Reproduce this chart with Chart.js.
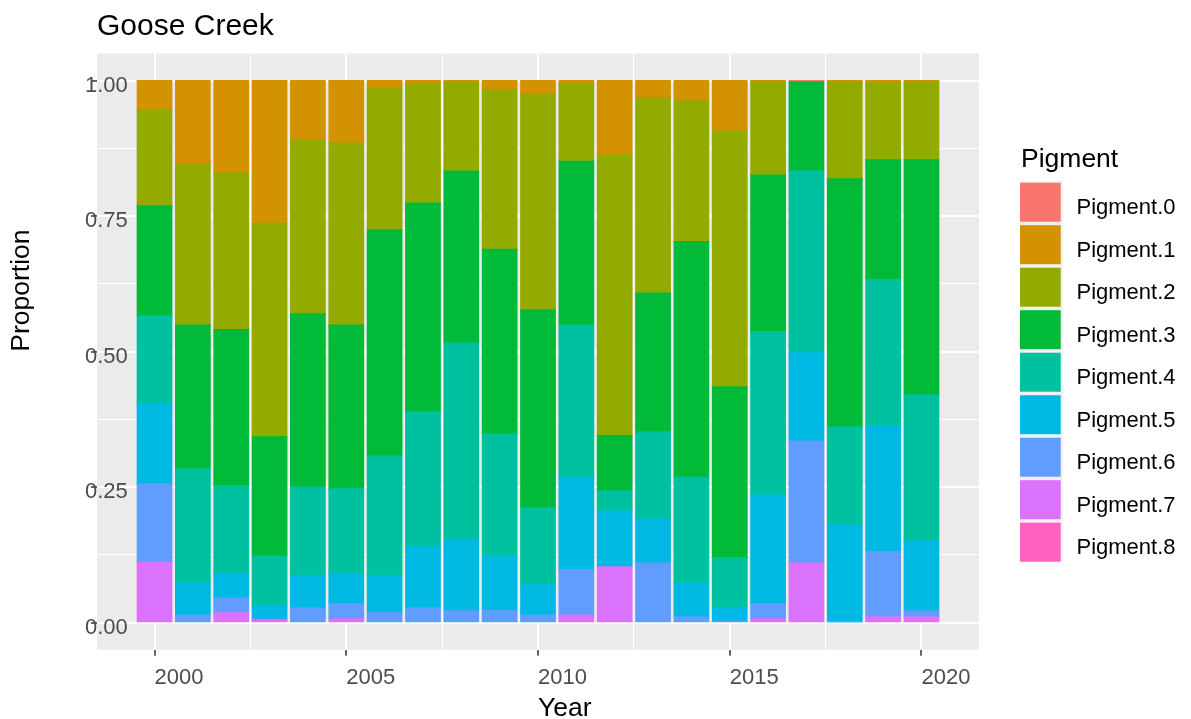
<!DOCTYPE html>
<html>
<head>
<meta charset="utf-8">
<title>Goose Creek</title>
<script src="https://cdn.jsdelivr.net/npm/chart.js"></script>
<style>
  body { margin: 0; background: #fff; }
  canvas { display: block; }
</style>
</head>
<body>
<canvas id="pigmentChart" width="1191" height="719"></canvas>
<script>
const FONT = '"Liberation Sans", Arial, Helvetica, sans-serif';

const chartTitle = 'Goose Creek';
const xTitle = 'Year';
const yTitle = 'Proportion';
const legendTitle = 'Pigment';

const years = [2000, 2001, 2002, 2003, 2004, 2005, 2006, 2007, 2008, 2009, 2010,
               2011, 2012, 2013, 2014, 2015, 2016, 2017, 2018, 2019, 2020];

// proportion of each pigment per year (2000..2020)
const pigment0 = [0, 0, 0, 0, 0, 0, 0, 0, 0, 0, 0, 0, 0, 0, 0, 0, 0, 0.002, 0, 0, 0];
const pigment1 = [0.054, 0.153, 0.170, 0.263, 0.109, 0.115, 0.013, 0.006, 0.002, 0.017, 0.024,
                  0.006, 0.137, 0.031, 0.037, 0.093, 0.002, 0, 0.002, 0.004, 0.002];
const pigment2 = [0.177, 0.298, 0.289, 0.394, 0.321, 0.336, 0.262, 0.220, 0.165, 0.294, 0.399,
                  0.143, 0.518, 0.361, 0.260, 0.472, 0.172, 0, 0.179, 0.142, 0.144];
const pigment3 = [0.203, 0.265, 0.288, 0.220, 0.320, 0.302, 0.417, 0.385, 0.317, 0.341, 0.365,
                  0.302, 0.102, 0.256, 0.435, 0.315, 0.289, 0.165, 0.458, 0.221, 0.434];
const pigment4 = [0.162, 0.211, 0.163, 0.092, 0.163, 0.157, 0.221, 0.249, 0.362, 0.224, 0.142,
                  0.281, 0.037, 0.161, 0.195, 0.092, 0.301, 0.335, 0.181, 0.270, 0.269];
const pigment5 = [0.148, 0.059, 0.044, 0.024, 0.060, 0.055, 0.069, 0.113, 0.132, 0.101, 0.056,
                  0.170, 0.103, 0.081, 0.062, 0.025, 0.201, 0.163, 0.178, 0.232, 0.129];
const pigment6 = [0.145, 0.014, 0.028, 0.003, 0.027, 0.028, 0.018, 0.027, 0.022, 0.023, 0.014,
                  0.084, 0, 0.110, 0.011, 0.003, 0.028, 0.225, 0.002, 0.120, 0.011];
const pigment7 = [0.111, 0, 0.018, 0.004, 0, 0.007, 0, 0, 0, 0, 0,
                  0.014, 0.103, 0, 0, 0, 0.007, 0.110, 0, 0.011, 0.011];
const pigment8 = [0, 0, 0, 0, 0, 0, 0, 0, 0, 0, 0, 0, 0, 0, 0, 0, 0, 0, 0, 0, 0];

const seriesNames = ['Pigment.0', 'Pigment.1', 'Pigment.2', 'Pigment.3', 'Pigment.4',
                     'Pigment.5', 'Pigment.6', 'Pigment.7', 'Pigment.8'];
const seriesValues = [pigment0, pigment1, pigment2, pigment3, pigment4,
                      pigment5, pigment6, pigment7, pigment8];
const seriesColors = ['#F8766D', '#D39200', '#93AA00', '#00BA38', '#00C19F',
                      '#00B9E3', '#619CFF', '#DB72FB', '#FF61C3'];

// first dataset sits at the bottom of the stack, so Pigment.8 goes first
const datasets = seriesNames.map((name, i) => ({
    label: name,
    data: years.map((yr, j) => ({ x: yr, y: seriesValues[i][j] })),
    backgroundColor: seriesColors[i],
    borderWidth: 0,
    // slight overlap hides seams between stacked segments; empty segments stay flat
    inflateAmount: ctx => (ctx.raw && ctx.raw.y > 0) ? 0.6 : 0,
    categoryPercentage: 1,
    barPercentage: 0.9
})).reverse();

const isMajor = (v, step) => Math.abs(v / step - Math.round(v / step)) < 1e-6;

const decorations = {
    id: 'decorations',
    beforeDraw(chart) {
        const { ctx, chartArea: a } = chart;
        ctx.save();
        ctx.fillStyle = '#EBEBEB';
        ctx.fillRect(a.left, a.top, a.right - a.left, a.bottom - a.top);
        ctx.restore();
    },
    afterDraw(chart) {
        const { ctx, chartArea: a } = chart;
        ctx.save();
        ctx.fillStyle = '#000';
        ctx.textAlign = 'left';
        ctx.textBaseline = 'alphabetic';

        ctx.font = '30px ' + FONT;
        ctx.fillText(chartTitle, a.left, 35);

        ctx.font = '26.5px ' + FONT;
        ctx.fillText(xTitle, (a.left + a.right) / 2, 716);

        ctx.save();
        ctx.translate(29, (a.top + a.bottom) / 2);
        ctx.rotate(-Math.PI / 2);
        ctx.fillText(yTitle, 0, 0);
        ctx.restore();

        // legend
        const keyX = 1020, keyTop = 182.7, keyStep = 42.5, keyW = 40.7, keyH = 39;
        ctx.fillText(legendTitle, 1021, 166.7);
        ctx.fillStyle = '#F2F2F2';
        ctx.fillRect(keyX, keyTop - 1.7, 43, keyStep * seriesNames.length - 1.6);
        ctx.font = '22px ' + FONT;
        seriesNames.forEach((name, i) => {
            const y = keyTop + i * keyStep;
            ctx.fillStyle = seriesColors[i];
            ctx.fillRect(keyX, y, keyW, keyH);
            ctx.fillStyle = '#000';
            ctx.fillText(name, 1076.5, y + 31.3);
        });
        ctx.restore();
    }
};

new Chart(document.getElementById('pigmentChart').getContext('2d'), {
    type: 'bar',
    data: { datasets: datasets },
    plugins: [decorations],
    options: {
        responsive: false,
        devicePixelRatio: 1,
        animation: false,
        layout: { padding: { top: 53.6, right: 212, bottom: 0, left: 0 } },
        plugins: {
            legend: { display: false },
            tooltip: { enabled: false }
        },
        scales: {
            x: {
                type: 'linear',
                stacked: true,
                offset: false,
                min: 1998.5,
                max: 2021.5,
                border: { display: false },
                grid: {
                    offset: false,
                    color: '#FFFFFF',
                    lineWidth: ctx => isMajor(ctx.tick.value, 5) ? 2 : 1,
                    tickColor: ctx => isMajor(ctx.tick.value, 5) ? '#333333' : 'rgba(0,0,0,0)',
                    tickLength: 6,
                    tickWidth: 1.5
                },
                ticks: {
                    stepSize: 2.5,
                    includeBounds: false,
                    autoSkip: false,
                    maxRotation: 0,
                    align: 'start',
                    padding: 9,
                    color: '#4D4D4D',
                    font: { family: FONT, size: 22 },
                    callback: v => isMajor(v, 5) ? String(v) : ''
                },
                afterFit: scale => { scale.height = 69.2; }
            },
            y: {
                stacked: true,
                beginAtZero: false,
                min: -0.05,
                max: 1.05,
                border: { display: false },
                grid: {
                    color: '#FFFFFF',
                    lineWidth: ctx => isMajor(ctx.tick.value, 0.25) ? 2 : 1,
                    tickColor: ctx => isMajor(ctx.tick.value, 0.25) ? '#333333' : 'rgba(0,0,0,0)',
                    tickLength: 6,
                    tickWidth: 1.5
                },
                ticks: {
                    stepSize: 0.125,
                    includeBounds: false,
                    autoSkip: false,
                    mirror: true,
                    padding: -12,
                    labelOffset: 5,
                    color: '#4D4D4D',
                    font: { family: FONT, size: 22 },
                    callback: v => isMajor(v, 0.25) ? v.toFixed(2) : ''
                },
                afterFit: scale => { scale.width = 97; }
            }
        }
    }
});
</script>
</body>
</html>
